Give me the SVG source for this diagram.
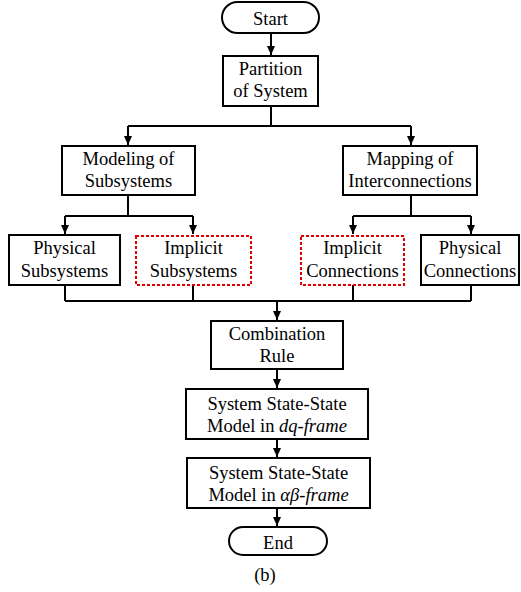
<svg xmlns="http://www.w3.org/2000/svg" width="521" height="592" viewBox="0 0 521 592">
<defs>
<style>
.box{fill:#fff;stroke:#000;stroke-width:2}
.imp{fill:#fff;stroke:#e00000;stroke-width:2;stroke-dasharray:3 2}
.ln{fill:none;stroke:#000;stroke-width:2}
.t{font-family:'Liberation Serif','Tinos','Times New Roman','DejaVu Serif',serif;font-size:18.5px;fill:#000;text-anchor:middle}
.it{font-style:italic}
</style>
<marker id="ah" viewBox="0 0 9 8" markerUnits="userSpaceOnUse" markerWidth="9" markerHeight="8" refX="9" refY="4" orient="auto">
<path d="M0,0 L9,4 L0,8 z" fill="#000"/>
</marker>
</defs>
<rect width="521" height="592" fill="#fff"/>
<g id="connectors">
<path class="ln" d="M271,33 V55" marker-end="url(#ah)"/>
<path class="ln" d="M271,106 V126"/>
<path class="ln" d="M128,126 H411"/>
<path class="ln" d="M128,126 V145" marker-end="url(#ah)"/>
<path class="ln" d="M411,126 V145" marker-end="url(#ah)"/>
<path class="ln" d="M128,195 V216 M65,216 H193"/>
<path class="ln" d="M65,216 V234" marker-end="url(#ah)"/>
<path class="ln" d="M193,216 V234" marker-end="url(#ah)"/>
<path class="ln" d="M411,195 V216 M353,216 H471"/>
<path class="ln" d="M353,216 V234" marker-end="url(#ah)"/>
<path class="ln" d="M471,216 V234" marker-end="url(#ah)"/>
<path class="ln" d="M65,285 V301 M193,285 V301 M353,285 V301 M471,285 V301 M65,301 H471"/>
<path class="ln" d="M277,301 V320" marker-end="url(#ah)"/>
<path class="ln" d="M277,369 V388" marker-end="url(#ah)"/>
<path class="ln" d="M277,439 V457" marker-end="url(#ah)"/>
<path class="ln" d="M277,508 V526" marker-end="url(#ah)"/>
</g>
<g class="t">
<g id="start">
<rect class="box" x="222" y="2" width="97" height="31" rx="15.5"/>
<text x="270.5" y="25">Start</text>
</g>
<g id="partition">
<rect class="box" x="223" y="56" width="95" height="50"/>
<text x="270.5" y="75">Partition</text>
<text x="270.5" y="97">of System</text>
</g>
<g id="modeling">
<rect class="box" x="62" y="146" width="133" height="49"/>
<text x="128.5" y="165">Modeling of</text>
<text x="128.5" y="187">Subsystems</text>
</g>
<g id="mapping">
<rect class="box" x="343" y="146" width="134" height="49"/>
<text x="410" y="165">Mapping of</text>
<text x="410" y="187">Interconnections</text>
</g>
<g id="physical-subsystems">
<rect class="box" x="9" y="235" width="111" height="50"/>
<text x="64.5" y="254">Physical</text>
<text x="64.5" y="277">Subsystems</text>
</g>
<g id="implicit-subsystems">
<rect class="imp" x="136" y="236" width="115" height="49"/>
<text x="193.5" y="254">Implicit</text>
<text x="193.5" y="277">Subsystems</text>
</g>
<g id="implicit-connections">
<rect class="imp" x="301" y="236" width="103" height="49"/>
<text x="352.5" y="254">Implicit</text>
<text x="352.5" y="277">Connections</text>
</g>
<g id="physical-connections">
<rect class="box" x="421" y="235" width="98" height="50"/>
<text x="470" y="254">Physical</text>
<text x="470" y="277">Connections</text>
</g>
<g id="combination">
<rect class="box" x="211" y="321" width="132" height="48"/>
<text x="277" y="340">Combination</text>
<text x="277" y="362">Rule</text>
</g>
<g id="dq-model">
<rect class="box" x="186" y="389" width="182" height="50"/>
<text x="277" y="410">System State-State</text>
<text x="277" y="432">Model in <tspan class="it">dq-frame</tspan></text>
</g>
<g id="ab-model">
<rect class="box" x="187" y="458" width="183" height="50"/>
<text x="278.5" y="479">System State-State</text>
<text x="278.5" y="501">Model in <tspan class="it">αβ-frame</tspan></text>
</g>
<g id="end">
<rect class="box" x="229" y="527" width="98" height="28" rx="14"/>
<text x="278" y="549">End</text>
</g>
<text x="265" y="581">(b)</text>
</g>
</svg>
